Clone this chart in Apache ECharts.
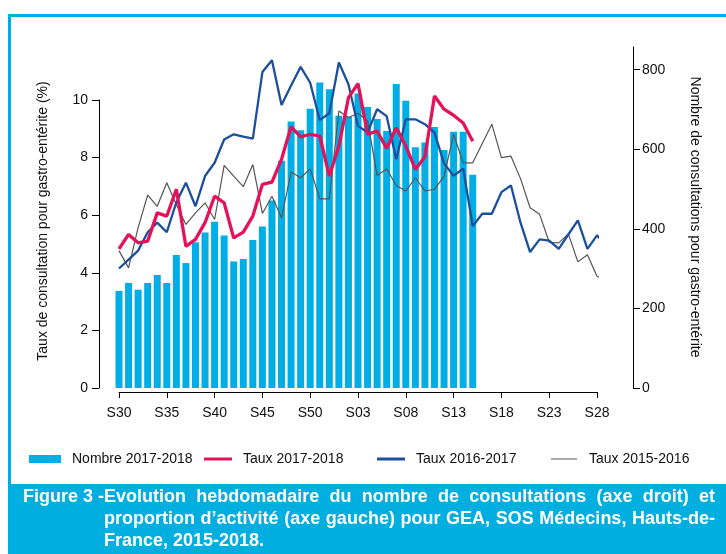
<!DOCTYPE html>
<html lang="fr">
<head>
<meta charset="utf-8">
<script src="https://cdn.jsdelivr.net/npm/echarts@6.0.0/dist/echarts.min.js"></script>
<style>
html, body { margin: 0; padding: 0; background: #fff; }
#main { width: 726px; height: 554px; }
</style>
</head>
<body>
<div id="main"></div>
<script>
// semaines S30 -> S29
var weeks = ['S30','S31','S32','S33','S34','S35','S36','S37','S38','S39','S40','S41','S42','S43','S44','S45',
  'S46','S47','S48','S49','S50','S51','S52','S01','S02','S03','S04','S05','S06','S07','S08','S09','S10',
  'S11','S12','S13','S14','S15','S16','S17','S18','S19','S20','S21','S22','S23','S24','S25','S26','S27','S28','S29'];

// nombre de consultations (axe droit)
var nombre1718 = [244,264,247,264,284,264,334,314,366,391,418,383,318,324,372,406,471,571,670,648,
  702,768,751,684,682,740,706,676,646,764,722,605,617,656,598,644,644,536];

// taux (%) (axe gauche)
var taux1718 = [4.83,5.33,5.04,5.10,6.08,5.97,6.90,4.92,5.16,5.74,6.66,6.43,5.21,5.41,5.97,7.07,7.15,7.94,9.07,8.72,
  8.81,8.75,7.36,8.40,10.08,10.57,8.81,8.92,8.32,9.04,8.40,7.59,8.03,10.14,9.68,9.47,9.20,8.57];
var taux1617 = [4.15,4.46,4.77,5.41,5.74,5.41,6.45,7.13,6.31,7.36,7.82,8.63,8.81,8.73,8.66,10.97,11.38,9.83,10.5,11.15,
  10.6,9.3,9.54,11.3,10.55,9.1,8.87,9.68,9.44,7.94,9.33,9.33,9.16,8.87,7.8,7.37,7.62,5.62,6.05,6.05,
  6.8,7.03,5.74,4.72,5.16,5.12,4.83,5.33,5.82,4.83,5.3,4.95];
var taux1516 = [4.77,4.17,5.57,6.70,6.31,7.13,6.36,5.68,6.08,6.43,5.85,7.73,7.36,6.99,7.76,6.06,6.66,5.91,7.50,7.30,
  7.61,6.57,6.57,9.62,9.39,9.54,9.27,7.38,7.61,7.03,6.84,7.30,6.84,6.90,7.36,8.81,7.82,7.82,8.49,9.16,
  8.0,8.05,7.27,6.26,6.03,5.06,5.04,5.35,4.38,4.63,3.88,3.74];

var rightTicks = [0, 200, 400, 600, 800];
var names = ['Nombre 2017-2018', 'Taux 2017-2018', 'Taux 2016-2017', 'Taux 2015-2016'];

var FONT = '"Liberation Sans", Arial, sans-serif';
var CYAN = '#00AEDF';

function pairs(arr) {
  return arr.map(function (v, i) { return [i, v]; });
}

// legende du bas de figure, texte justifie
var capLines = [
  'Evolution hebdomadaire du nombre de consultations (axe droit) et',
  'proportion d\u2019activit\u00e9 (axe gauche) pour GEA, SOS M\u00e9decins, Hauts-de-',
  'France, 2015-2018.'
];
var capFont = 'bold 18px ' + FONT;
var ctx = document.createElement('canvas').getContext('2d');
ctx.font = capFont;

function capText(txt, x, y) {
  return { type: 'text', x: x, y: y, silent: true,
    style: { text: txt, font: capFont, fill: '#fff', align: 'left', verticalAlign: 'middle' } };
}
function justify(line, x0, x1, y) {
  var words = line.split(' ');
  var w = words.map(function (s) { return ctx.measureText(s).width; });
  var tot = w.reduce(function (a, b) { return a + b; }, 0);
  var gap = (x1 - x0 - tot) / (words.length - 1);
  var out = [], x = x0;
  for (var i = 0; i < words.length; i++) {
    out.push(capText(words[i], x, y));
    x += w[i] + gap;
  }
  return out;
}

var graphics = [
  { type: 'rect', shape: { x: 8, y: 14, width: 718, height: 3 }, style: { fill: CYAN }, silent: true },
  { type: 'rect', shape: { x: 8, y: 14, width: 3, height: 474 }, style: { fill: CYAN }, silent: true },
  { type: 'rect', shape: { x: 8, y: 484, width: 718, height: 70 }, style: { fill: CYAN }, silent: true },
  { type: 'text', x: 43, y: 221, rotation: Math.PI / 2, silent: true,
    style: { text: 'Taux de consultation pour gastro-ent\u00e9rite (%)', font: '14px ' + FONT,
      fill: '#111', align: 'center', verticalAlign: 'middle' } },
  { type: 'text', x: 695, y: 217, rotation: -Math.PI / 2, silent: true,
    style: { text: 'Nombre de consultations pour gastro-ent\u00e9rite', font: '14px ' + FONT,
      fill: '#111', align: 'center', verticalAlign: 'middle' } },
  capText('Figure 3 -', 23, 497)
];
graphics = graphics.concat(justify(capLines[0], 104, 715, 497));
graphics = graphics.concat(justify(capLines[1], 104, 715, 519));
graphics.push(capText(capLines[2], 104, 541));

var chart = echarts.init(document.getElementById('main'));

var axisTxt = { fontFamily: FONT, fontSize: 14, color: '#111' };

option = {
  animation: false,
  backgroundColor: '#fff',
  textStyle: { fontFamily: FONT },
  grid: [
    { left: 119, right: 129, top: 100, bottom: 166 },
    { left: 119, right: 129, top: 47, bottom: 166 }
  ],
  xAxis: [
    {
      gridIndex: 0, type: 'value', min: 0, max: 50, interval: 5, offset: 4,
      axisLine: { show: true, onZero: false, lineStyle: { color: '#000', width: 1 } },
      axisTick: { show: true, length: 6, lineStyle: { color: '#000' } },
      axisLabel: Object.assign({ margin: 14, formatter: function (v) { return weeks[v]; } }, axisTxt),
      splitLine: { show: false }
    },
    { gridIndex: 1, type: 'value', min: 0, max: 50, show: false }
  ],
  yAxis: [
    {
      gridIndex: 0, type: 'value', position: 'left', min: 0, max: 10, interval: 2, offset: 20,
      axisLine: { show: true, onZero: false, lineStyle: { color: '#000', width: 1 } },
      axisTick: { show: true, length: 7, lineStyle: { color: '#000' } },
      axisLabel: Object.assign({ margin: 11 }, axisTxt),
      splitLine: { show: false }
    },
    {
      gridIndex: 1, type: 'value', position: 'right', min: 0, max: 857, offset: 36,
      axisLine: { show: true, onZero: false, lineStyle: { color: '#000', width: 1 } },
      axisTick: { show: true, length: 7, customValues: rightTicks, lineStyle: { color: '#000' } },
      axisLabel: Object.assign({ margin: 9, customValues: rightTicks }, axisTxt),
      splitLine: { show: false }
    }
  ],
  legend: [
    { data: [names[0]], left: 24, top: 447, icon: 'rect', itemWidth: 32, itemHeight: 8,
      textStyle: Object.assign({ padding: [0, 0, 0, 6] }, axisTxt) },
    { data: [names[1]], left: 199, top: 447, icon: 'rect', itemWidth: 28, itemHeight: 3,
      textStyle: Object.assign({ padding: [0, 0, 0, 6] }, axisTxt) },
    { data: [names[2]], left: 372, top: 447, icon: 'rect', itemWidth: 28, itemHeight: 3,
      textStyle: Object.assign({ padding: [0, 0, 0, 6] }, axisTxt) },
    { data: [names[3]], left: 546, top: 447, icon: 'rect', itemWidth: 26, itemHeight: 1,
      textStyle: Object.assign({ padding: [0, 0, 0, 7] }, axisTxt) }
  ],
  graphic: graphics,
  series: [
    {
      name: names[0], type: 'bar', xAxisIndex: 1, yAxisIndex: 1, barWidth: 7,
      itemStyle: { color: '#00AEE6' },
      data: pairs(nombre1718)
    },
    {
      name: names[3], type: 'line', xAxisIndex: 0, yAxisIndex: 0, symbol: 'none', clip: false, z: 3,
      itemStyle: { color: '#555' }, lineStyle: { color: '#555', width: 1.2 },
      data: pairs(taux1516)
    },
    {
      name: names[2], type: 'line', xAxisIndex: 0, yAxisIndex: 0, symbol: 'none', clip: false, z: 4,
      itemStyle: { color: '#1C4F9C' }, lineStyle: { color: '#1C4F9C', width: 2.3 },
      data: pairs(taux1617)
    },
    {
      name: names[1], type: 'line', xAxisIndex: 0, yAxisIndex: 0, symbol: 'none', clip: false, z: 5,
      itemStyle: { color: '#E3125A' }, lineStyle: { color: '#E3125A', width: 3.3 },
      data: pairs(taux1718)
    }
  ]
};

chart.setOption(option);
</script>
</body>
</html>
